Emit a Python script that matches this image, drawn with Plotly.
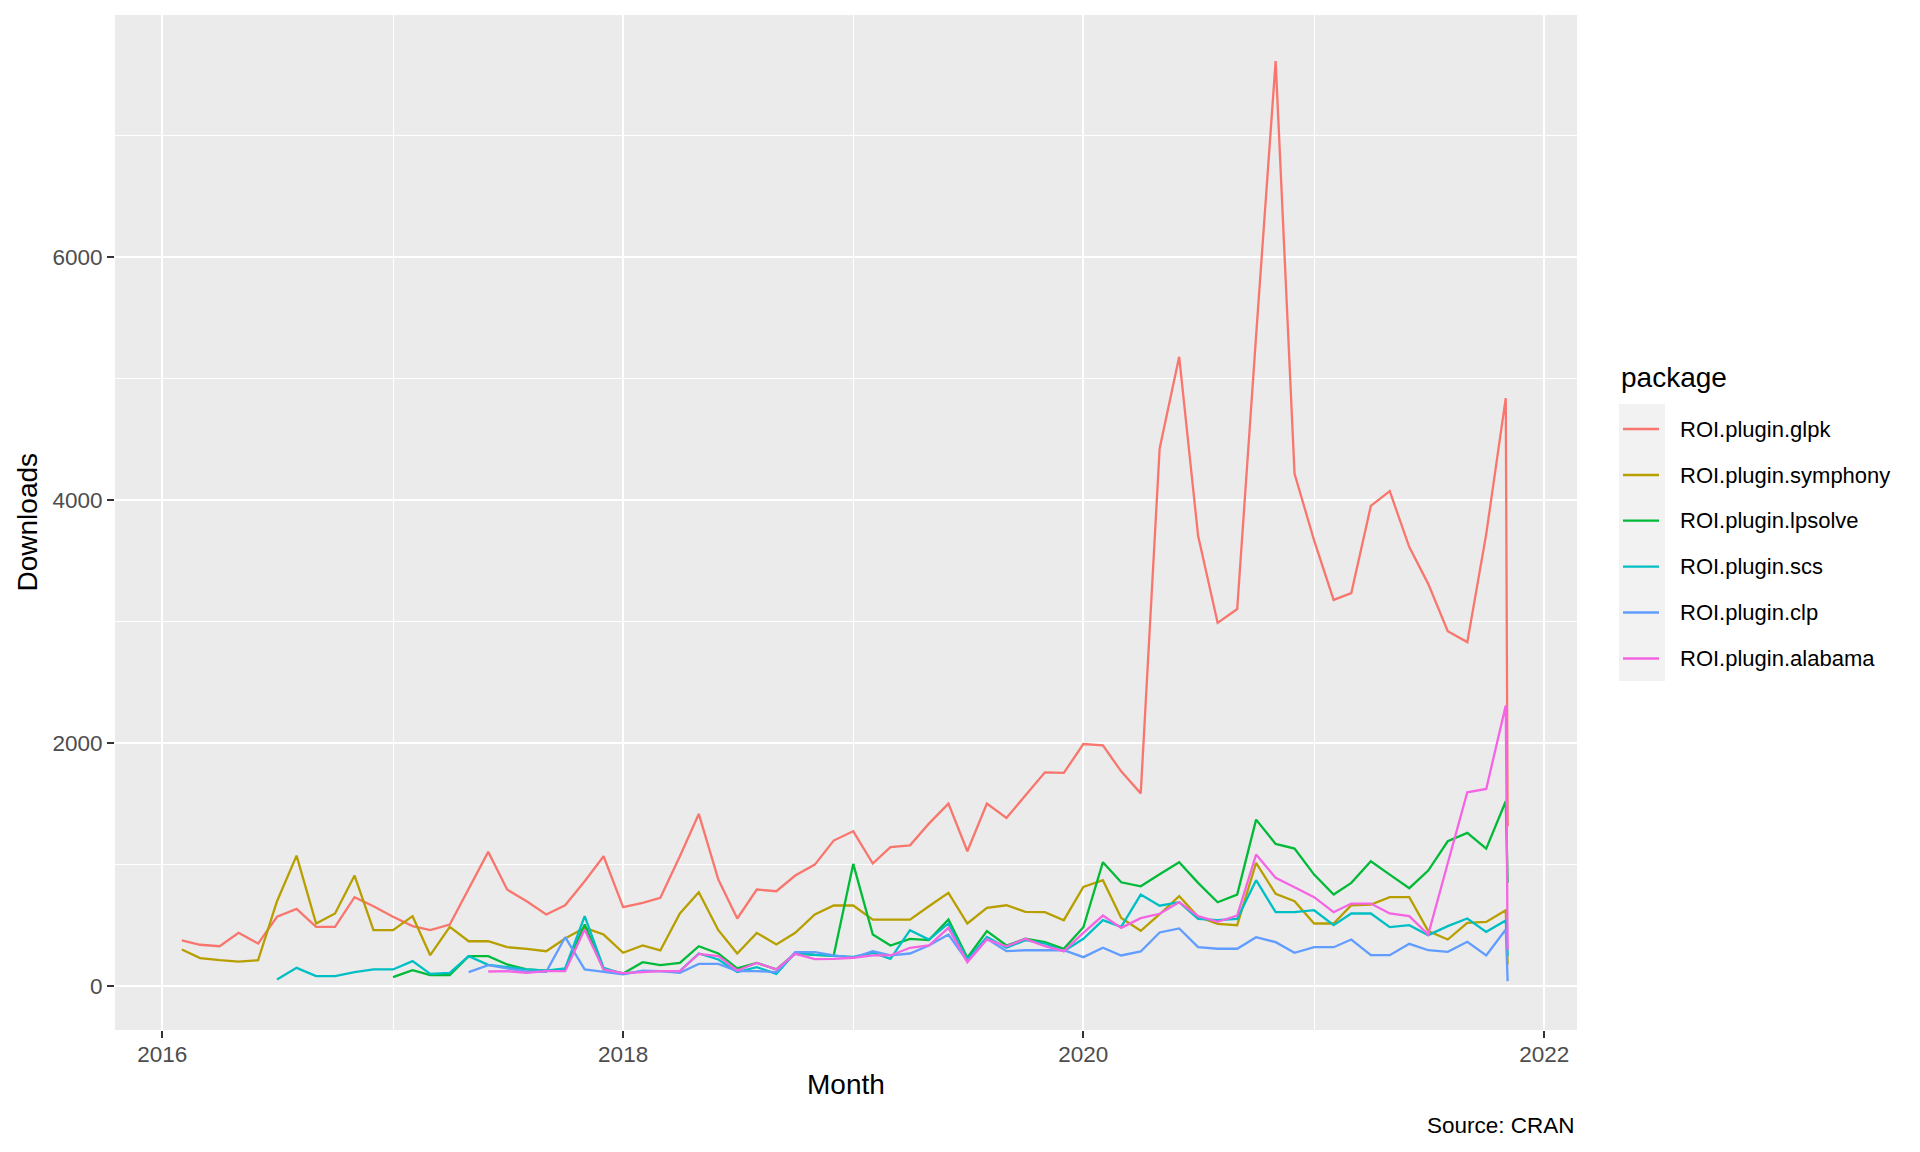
import pandas as pd
import plotly.graph_objects as go

# ---------------- data (monthly downloads) ----------------
months = [d.strftime("%Y-%m-%d") for d in pd.date_range("2016-02-01", "2021-11-01", freq="MS")]
partial_month = "2021-11-04"   # last, incomplete month

packages = ["ROI.plugin.glpk", "ROI.plugin.symphony", "ROI.plugin.lpsolve",
            "ROI.plugin.scs", "ROI.plugin.clp", "ROI.plugin.alabama"]
colors = ["#F8766D", "#B79F00", "#00BA38", "#00BFC4", "#619CFF", "#F564E3"]

glpk_start = "2016-02-01"
glpk = [380, 343, 331, 441, 353, 573, 638, 490, 490, 734, 660,
        573, 496, 463, 509, 805, 1107, 797, 701, 592, 668, 865, 1071,
        652, 688, 729, 1071, 1419, 879, 559, 797, 783, 912, 1002, 1200,
        1276, 1011, 1145, 1161, 1339, 1504, 1112, 1504, 1386, 1572, 1761, 1756,
        1994, 1982, 1769, 1588, 4424, 5178, 3707, 2990, 3104, 5350, 7611, 4216,
        3669, 3179, 3235, 3952, 4073, 3613, 3311, 2922, 2832, 3720, 4838, 1317]

symphony_start = "2016-02-01"
symphony = [304, 233, 216, 205, 216, 701, 1076, 518, 600, 912, 463,
            463, 578, 257, 490, 372, 372, 323, 309, 290, 394, 482, 427,
            277, 337, 296, 600, 775, 463, 271, 441, 345, 441, 592, 666,
            666, 550, 550, 550, 660, 770, 518, 646, 668, 614, 611, 545,
            819, 874, 564, 458, 594, 742, 573, 515, 504, 1016, 761, 701,
            518, 518, 668, 674, 734, 734, 455, 386, 523, 531, 627, 180]

lpsolve_start = "2017-01-01"
lpsolve = [77, 134, 93, 93, 249, 249, 181, 140, 131, 140, 509, 140,
           107, 200, 175, 194, 331, 271, 148, 194, 140, 271, 259, 255,
           1008, 427, 337, 392, 381, 551, 236, 455, 337, 392, 364, 309,
           487, 1022, 857, 824, 923, 1022, 852, 693, 756, 1372, 1172, 1134,
           920, 756, 852, 1030, 920, 808, 953, 1194, 1263, 1134, 1523, 852]

scs_start = "2016-07-01"
scs = [58, 153, 85, 85, 118, 140, 140, 208, 104, 112, 249, 178,
       159, 140, 131, 148, 578, 153, 104, 126, 126, 126, 271, 222,
       118, 159, 104, 277, 259, 249, 244, 277, 227, 463, 386, 518,
       222, 408, 318, 381, 353, 290, 392, 545, 490, 756, 664, 693,
       556, 545, 556, 874, 611, 611, 627, 504, 600, 600, 488, 504,
       422, 496, 559, 449, 542, 249]

clp_start = "2017-05-01"
clp = [118, 175, 148, 121, 121, 405, 140, 118, 99, 131, 126, 112,
       186, 186, 126, 126, 118, 282, 282, 255, 236, 290, 255, 271,
       337, 427, 208, 392, 290, 298, 298, 298, 241, 318, 255, 288,
       444, 477, 323, 310, 310, 405, 364, 277, 323, 323, 386, 257,
       257, 351, 298, 285, 367, 255, 468, 44]

alabama_start = "2017-06-01"
alabama = [123, 126, 112, 126, 126, 468, 140, 110, 118, 126, 126, 268,
           249, 131, 194, 140, 268, 225, 227, 236, 255, 255, 318, 337,
           482, 200, 386, 331, 392, 331, 290, 441, 583, 482, 562, 598,
           693, 578, 531, 583, 1085, 893, 816, 734, 611, 682, 682, 600,
           578, 427, 1013, 1597, 1624, 2311, 304]

series = [(glpk_start, glpk), (symphony_start, symphony), (lpsolve_start, lpsolve),
          (scs_start, scs), (clp_start, clp), (alabama_start, alabama)]

y_ticks = [0, 2000, 4000, 6000]
y_minor = [1000, 3000, 5000, 7000]
x_ticks = ["2016-01-01", "2018-01-01", "2020-01-01", "2022-01-01"]
x_ticktext = ["2016", "2018", "2020", "2022"]
x_minor = ["2017-01-01", "2019-01-01", "2021-01-01"]

# ---------------- figure ----------------
W, H = 1920, 1152
PL, PR, PT, PB = 115, 1577, 15, 1030   # panel edges in px


def px_x(p):
    return (p - PL) / (PR - PL)


def px_y(p):
    return (PB - p) / (PB - PT)


FONT = "Liberation Sans, Arial, sans-serif"

fig = go.Figure()
for name, col, (start, vals) in zip(packages, colors, series):
    i0 = months.index(start)
    xs = months[i0:] + [partial_month]
    fig.add_trace(go.Scatter(x=xs, y=vals, mode="lines", name=name,
                             line=dict(color=col, width=2.3),
                             showlegend=False))

fig.update_layout(
    width=W, height=H,
    margin=dict(l=PL, r=W - PR, t=PT, b=H - PB, pad=0),
    paper_bgcolor="white",
    plot_bgcolor="#EBEBEB",
    font=dict(family=FONT, color="black"),
)

fig.update_xaxes(
    type="date",
    range=["2015-10-18", "2022-02-22"],
    tickmode="array", tickvals=x_ticks, ticktext=x_ticktext,
    showgrid=True, gridcolor="white", gridwidth=2.2,
    minor=dict(tickmode="array", tickvals=x_minor, showgrid=True,
               gridcolor="white", gridwidth=1.1, ticks=""),
    ticks="outside", ticklen=7, tickwidth=2, tickcolor="#333333",
    ticklabelstandoff=-3,
    tickfont=dict(size=22.5, color="#4D4D4D", family=FONT),
    showline=False, zeroline=False,
)
fig.update_yaxes(
    range=[-358, 7989],
    tickmode="array", tickvals=y_ticks, ticktext=[str(v) for v in y_ticks],
    showgrid=True, gridcolor="white", gridwidth=2.2,
    minor=dict(tickmode="array", tickvals=y_minor, showgrid=True,
               gridcolor="white", gridwidth=1.1, ticks=""),
    ticks="outside", ticklen=7, tickwidth=2, tickcolor="#333333",
    tickfont=dict(size=22.5, color="#4D4D4D", family=FONT),
    showline=False, zeroline=False,
)

ann = []
ann.append(dict(text="Month", x=0.5, y=px_y(1084), xref="paper", yref="paper",
                showarrow=False, xanchor="center", yanchor="middle",
                font=dict(size=28, color="black", family=FONT)))
ann.append(dict(text="Downloads", x=px_x(27), y=0.5, xref="paper", yref="paper",
                showarrow=False, xanchor="center", yanchor="middle", textangle=-90,
                font=dict(size=28, color="black", family=FONT)))
ann.append(dict(text="Source: CRAN", x=1.0, y=px_y(1125), xref="paper", yref="paper",
                showarrow=False, xanchor="right", yanchor="middle",
                font=dict(size=22.5, color="black", family=FONT)))
ann.append(dict(text="package", x=px_x(1619), y=px_y(377), xref="paper", yref="paper",
                showarrow=False, xanchor="left", yanchor="middle",
                font=dict(size=28, color="black", family=FONT)))

shapes = [dict(type="rect", xref="paper", yref="paper",
               x0=px_x(1619), x1=px_x(1665), y0=px_y(404), y1=px_y(681),
               fillcolor="#F2F2F2", line=dict(width=0), layer="below")]
row_y = [429.0, 475.0, 520.7, 566.7, 612.5, 658.5]
for name, col, ry in zip(packages, colors, row_y):
    shapes.append(dict(type="line", xref="paper", yref="paper",
                       x0=px_x(1623), x1=px_x(1659), y0=px_y(ry), y1=px_y(ry),
                       line=dict(color=col, width=2.3)))
    ann.append(dict(text=name, x=px_x(1678), y=px_y(ry), xref="paper", yref="paper",
                    showarrow=False, xanchor="left", yanchor="middle",
                    font=dict(size=22, color="black", family=FONT)))

fig.update_layout(annotations=ann, shapes=shapes)

fig.write_html("out.html", config={"displayModeBar": False},
               post_script="document.body.style.margin='0';")
